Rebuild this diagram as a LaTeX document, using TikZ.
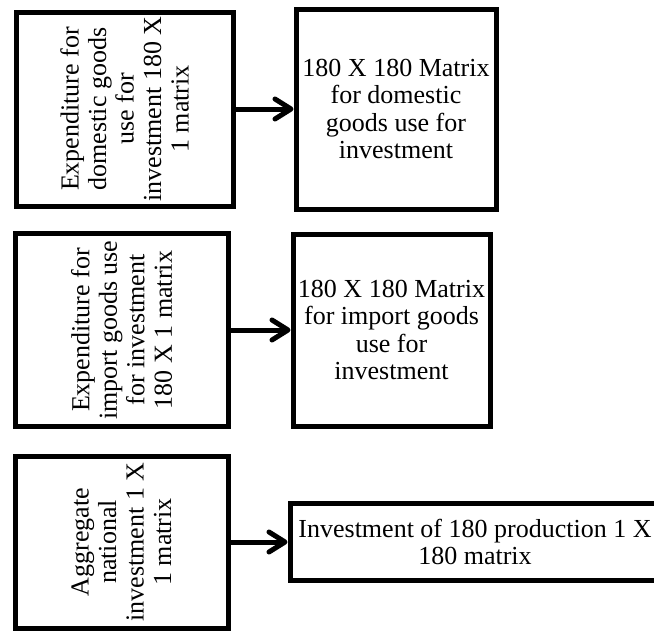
\documentclass[tikz,border=0pt]{standalone}
\usepackage{fontspec}
\setmainfont{Liberation Serif}
\usetikzlibrary{arrows.meta}
\tikzset{
  box/.style={draw, line width=5pt, inner sep=0pt, align=center,
    font=\fontsize{26}{27.5}\selectfont},
  vbox/.style={box, rotate=90},
  arr/.style={line width=5pt, -{Straight Barb[length=16pt,width=20pt,round]}}
}
\begin{document}
\begin{tikzpicture}[x=1pt,y=-1pt]
            \useasboundingbox (0,0) rectangle (654,630);

            % Riga 1
            \node[vbox, minimum width=194pt, minimum height=217pt] (exp1) at (124.5,109)
              {Expenditure for\\domestic goods\\use for\\investment 180 X\\1 matrix};
            \node[box, minimum width=200pt, minimum height=200pt] (mat1) at (396,109)
              {180 X 180 Matrix\\for domestic\\goods use for\\investment};
            \draw[arr] (exp1) -- (mat1);

            % Riga 2
            \node[vbox, minimum width=193pt, minimum height=213pt] (exp2) at (121.5,330)
              {Expenditure for\\import goods use\\for investment\\180 X 1 matrix};
            \node[box, minimum width=197pt, minimum height=192pt] (mat2) at (391.5,330)
              {180 X 180 Matrix\\for import goods\\use for\\investment};
            \draw[arr] (exp2) -- (mat2);

            % Riga 3
            \node[vbox, minimum width=172pt, minimum height=213pt] (agg) at (121.5,542)
              {Aggregate\\national\\investment 1 X\\1 matrix};
            \node[box, minimum width=370pt, minimum height=77pt] (inv) at (475,542)
              {Investment of 180 production 1 X\\180 matrix};
            \draw[arr] (agg) -- (inv);
        \end{tikzpicture}
\end{document}
